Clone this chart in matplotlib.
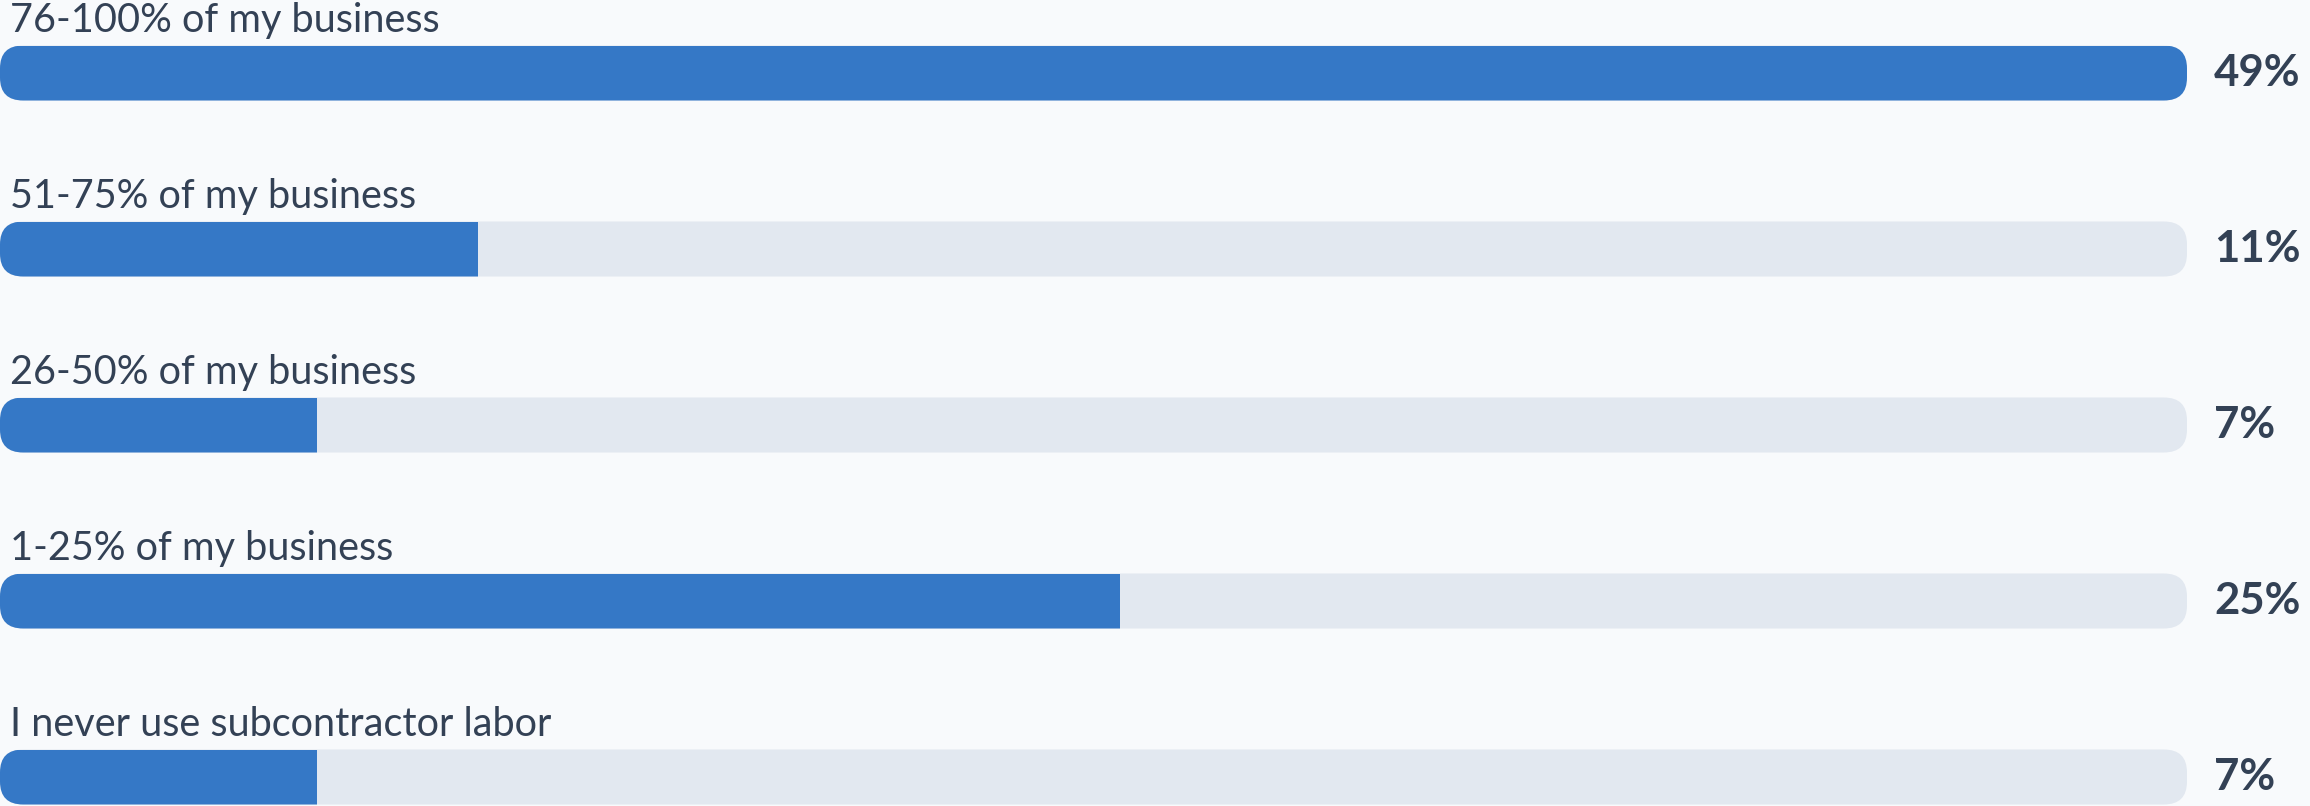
import matplotlib
matplotlib.use("Agg")
import matplotlib.pyplot as plt
from matplotlib.patches import FancyBboxPatch
import numpy as np

# survey answers, top to bottom
categories = ["76-100% of my business", "51-75% of my business", "26-50% of my business",
              "1-25% of my business", "I never use subcontractor labor"]
values = [49.0, 10.7, 7.1, 25.1, 7.1]
value_labels = ["49%", "11%", "7%", "25%", "7%"]

bg = "#f8fafc"
blue = "#3578c6"
track = "#e2e8f0"
txt = "#334155"

plt.rcParams['font.family'] = ['Lato', 'DejaVu Sans']

W, H = 2310, 806
fig = plt.figure(figsize=(W / 100, H / 100), dpi=100, facecolor=bg)
track_px = 2187
ax = fig.add_axes([0, 0, track_px / W, 1])
ax.set_facecolor(bg)
ax.axis("off")

vmax = max(values)
pitch = 176.0  # px between bars
ax.set_xlim(0, vmax)
ax.set_ylim(H / pitch - 73 / pitch, -73 / pitch)

ypos = np.arange(len(categories))
bar_h = 55 / pitch
rad_px = 23
r_x = rad_px * vmax / track_px
aspect = (1 / pitch) / (vmax / track_px)

for y, cat, v, lab in zip(ypos, categories, values, value_labels):
    tr = FancyBboxPatch((0, y - bar_h / 2), vmax, bar_h,
                        boxstyle=f"round,pad=0,rounding_size={r_x}",
                        mutation_aspect=aspect, fc=track, ec="none")
    ax.add_patch(tr)
    b = ax.barh(y, v, height=bar_h, color=blue, left=0)
    for p in b:
        p.set_clip_path(tr)
    ax.text(10 * vmax / track_px, y - bar_h / 2 - 14 / pitch, cat, ha="left", va="baseline",
            fontsize=28.5, color=txt)
    ax.annotate(lab, xy=(vmax, y), xytext=(27 * 0.72, 0), textcoords="offset points",
                ha="left", va="center", fontsize=31.5, fontweight="bold", color=txt,
                annotation_clip=False)

fig.savefig("out.png", dpi=100, facecolor=bg)
